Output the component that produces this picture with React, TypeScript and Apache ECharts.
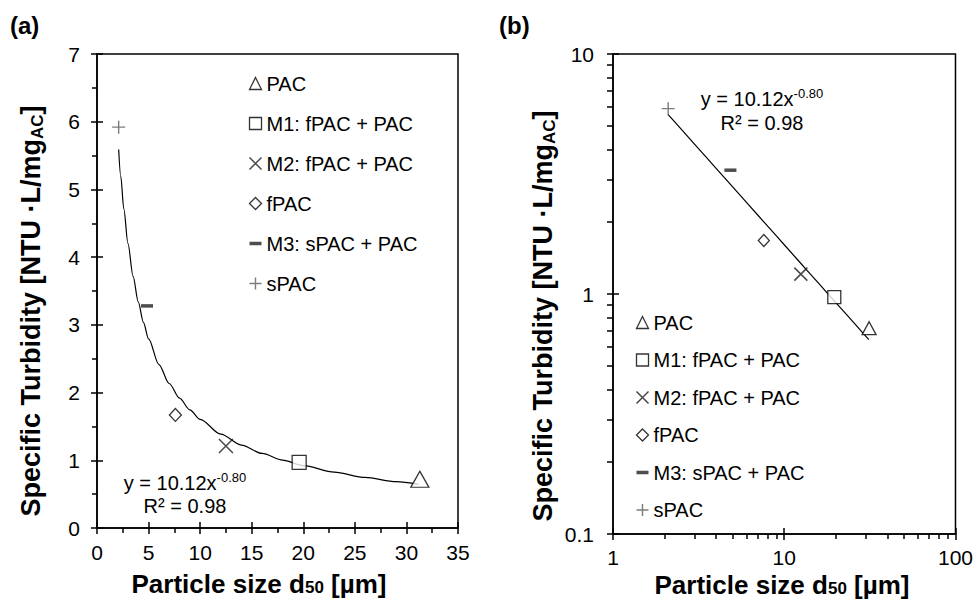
import React, { useEffect, useRef } from "react";
import * as echarts from "echarts";

const FONT = "'Liberation Sans', Arial, Helvetica, sans-serif";

// ---- data ----
const SERIES_NAMES = ["PAC", "M1: fPAC + PAC", "M2: fPAC + PAC", "fPAC", "M3: sPAC + PAC", "sPAC"];
const D50_UM = [31.3, 19.6, 12.5, 7.6, 4.85, 2.1];
const SPECIFIC_TURBIDITY = [0.72, 0.97, 1.21, 1.67, 3.28, 5.92];

// power-law fit y = 10.12 x^-0.80 (values of the drawn trend curve)
const FIT_X = [2.1, 2.3, 2.6, 3, 3.5, 4, 4.5, 5, 6, 7, 8, 9, 10, 12, 14, 16, 18, 20, 23, 26, 29, 31.2];
const FIT_Y = [5.59, 5.198, 4.712, 4.202, 3.715, 3.338, 3.038, 2.793, 2.414, 2.134, 1.917, 1.745, 1.604, 1.386, 1.225, 1.101, 1.002, 0.921, 0.824, 0.747, 0.684, 0.645];

const FIT_EQUATION = "y = 10.12x";
const FIT_EXPONENT = "-0.80";
const FIT_R2 = "R² = 0.98";

const LIN_X_RANGE = [0, 35];
const LIN_X_STEP = 5;
const LIN_Y_RANGE = [0, 7];
const LIN_Y_STEP = 1;
const LOG_X_RANGE = [1, 100];
const LOG_Y_RANGE = [0.1, 10];

// ---- styles ----
const X_PATH = "path://M0,0L10,10M10,0L0,10";
const PLUS_PATH = "path://M5,0L5,10M0,5L10,5";
const DASH_PATH = "path://M0,0L12,0L12,3.5L0,3.5Z";

const MARKERS: any[] = [
  { symbol: "triangle", sizeL: [18, 16], sizeR: [14, 13], legendIcon: "triangle", style: { color: "#fff", borderColor: "#000", borderWidth: 1.3 } },
  { symbol: "rect", sizeL: [14, 14], sizeR: [13, 13], legendIcon: "rect", style: { color: "#fff", borderColor: "#000", borderWidth: 1.3 } },
  { symbol: X_PATH, sizeL: [14, 14], sizeR: [13, 13], legendIcon: X_PATH, style: { color: "none", borderColor: "#1a1a1a", borderWidth: 1.5 } },
  { symbol: "diamond", sizeL: [12, 13], sizeR: [11, 12], legendIcon: "diamond", style: { color: "#fff", borderColor: "#000", borderWidth: 1.3 } },
  { symbol: "rect", sizeL: [12, 3.5], sizeR: [12, 3.5], legendIcon: DASH_PATH, style: { color: "#222", borderColor: "#222", borderWidth: 0 } },
  { symbol: PLUS_PATH, sizeL: [13, 13], sizeR: [13, 13], legendIcon: PLUS_PATH, style: { color: "none", borderColor: "#5a5a5a", borderWidth: 1.4 } },
];

const TICK_LINE = { color: "#000", width: 1.5 };
const LABEL_STYLE = { color: "#000", fontSize: 21, fontFamily: FONT };

function mainAxis(extra: any) {
  return {
    splitLine: { show: false },
    axisLine: { show: true, onZero: false, lineStyle: { color: "#000", width: 1.5 } },
    axisTick: { show: true, length: 6, lineStyle: TICK_LINE },
    ...extra,
  };
}
function innerTickAxis(extra: any) {
  return {
    splitLine: { show: false },
    axisLine: { show: false },
    axisLabel: { show: false },
    axisTick: { show: true, inside: true, length: 6, lineStyle: TICK_LINE },
    ...extra,
  };
}

const logFmt = (v: number) => (v < 1 ? v.toFixed(1) : String(Math.round(v)));

function buildOption() {
  const scatter = (g: number) =>
    SERIES_NAMES.map((name, i) => ({
      type: "scatter",
      name,
      xAxisIndex: g * 2,
      yAxisIndex: g * 2,
      data: [[D50_UM[i], SPECIFIC_TURBIDITY[i]]],
      symbol: MARKERS[i].symbol,
      symbolSize: g === 0 ? MARKERS[i].sizeL : MARKERS[i].sizeR,
      symbolKeepAspect: false,
      itemStyle: MARKERS[i].style,
      z: 4,
      silent: true,
      emphasis: { disabled: true },
    }));

  const fitData = FIT_X.map((x, i) => [x, FIT_Y[i]]);

  const legendData = SERIES_NAMES.map((name, i) => ({
    name,
    icon: MARKERS[i].legendIcon,
    itemStyle: { ...MARKERS[i].style },
  }));

  const legendCommon = {
    orient: "vertical",
    padding: 0,
    itemWidth: 12,
    itemHeight: 12,
    selectedMode: false,
    data: legendData,
    textStyle: { fontSize: 20, fontFamily: FONT, color: "#000", lineHeight: 21 },
  };

  const titleRich = {
    t: { fontSize: 26, fontWeight: "bold", fontFamily: FONT, fill: "#000", lineHeight: 24 },
    s: { fontSize: 17, fontWeight: "bold", fontFamily: FONT, fill: "#000", lineHeight: 4, verticalAlign: "bottom" },
  };
  const yTitleRich = {
    t: { fontSize: 27, fontWeight: "bold", fontFamily: FONT, fill: "#000", lineHeight: 30 },
    s: { fontSize: 17, fontWeight: "bold", fontFamily: FONT, fill: "#000", lineHeight: 10, verticalAlign: "bottom" },
  };
  const eqRich = {
    m: { fontSize: 20, fontFamily: FONT, fill: "#000", lineHeight: 24 },
    s: { fontSize: 13, fontFamily: FONT, fill: "#000", lineHeight: 13, verticalAlign: "top" },
  };

  const text = (x: number, y: number, t: string, rich: any, rotation = 0) => ({
    type: "text",
    x,
    y,
    rotation,
    silent: true,
    style: { text: t, align: "center", verticalAlign: "middle", rich },
  });

  return {
    animation: false,
    backgroundColor: "#fff",
    grid: [
      { left: 97, top: 54, width: 361, height: 474, show: true, borderColor: "#000", borderWidth: 1.5, containLabel: false },
      { left: 613, top: 54, width: 343, height: 480, show: true, borderColor: "#000", borderWidth: 1.5, containLabel: false },
    ],
    xAxis: [
      mainAxis({
        type: "value", gridIndex: 0, position: "bottom", min: LIN_X_RANGE[0], max: LIN_X_RANGE[1], interval: LIN_X_STEP,
        minorTick: { show: true, splitNumber: 2, length: 5, lineStyle: TICK_LINE },
        axisLabel: { ...LABEL_STYLE, margin: 14 },
      }),
      innerTickAxis({ type: "value", gridIndex: 0, position: "bottom", min: LIN_X_RANGE[0], max: LIN_X_RANGE[1], interval: LIN_X_STEP }),
      mainAxis({
        type: "log", logBase: 10, gridIndex: 1, position: "bottom", min: LOG_X_RANGE[0], max: LOG_X_RANGE[1],
        minorTick: { show: true, splitNumber: 9, length: 5, lineStyle: TICK_LINE },
        axisLabel: { ...LABEL_STYLE, margin: 13, formatter: logFmt },
      }),
      innerTickAxis({ type: "log", logBase: 10, gridIndex: 1, position: "bottom", min: LOG_X_RANGE[0], max: LOG_X_RANGE[1] }),
    ],
    yAxis: [
      mainAxis({
        type: "value", gridIndex: 0, position: "left", min: LIN_Y_RANGE[0], max: LIN_Y_RANGE[1], interval: LIN_Y_STEP,
        minorTick: { show: true, splitNumber: 2, length: 5, lineStyle: TICK_LINE },
        axisLabel: { ...LABEL_STYLE, margin: 17 },
      }),
      innerTickAxis({ type: "value", gridIndex: 0, position: "left", min: LIN_Y_RANGE[0], max: LIN_Y_RANGE[1], interval: LIN_Y_STEP }),
      mainAxis({
        type: "log", logBase: 10, gridIndex: 1, position: "left", min: LOG_Y_RANGE[0], max: LOG_Y_RANGE[1],
        minorTick: { show: true, splitNumber: 9, length: 6, lineStyle: TICK_LINE },
        axisLabel: { ...LABEL_STYLE, margin: 19, formatter: logFmt },
      }),
      innerTickAxis({ type: "log", logBase: 10, gridIndex: 1, position: "left", min: LOG_Y_RANGE[0], max: LOG_Y_RANGE[1] }),
    ],
    legend: [
      { ...legendCommon, left: 247, top: 73, itemGap: 19 },
      { ...legendCommon, left: 634, top: 312, itemGap: 16.5 },
    ],
    series: [
      {
        type: "line", name: "fit-a", xAxisIndex: 0, yAxisIndex: 0, data: fitData,
        showSymbol: false, symbol: "none", smooth: 0.3, smoothMonotone: "x",
        lineStyle: { color: "#000", width: 1.2 }, z: 2, silent: true,
      },
      {
        type: "line", name: "fit-b", xAxisIndex: 2, yAxisIndex: 2, data: fitData,
        showSymbol: false, symbol: "none",
        lineStyle: { color: "#000", width: 1.2 }, z: 2, silent: true,
      },
      ...scatter(0),
      ...scatter(1),
    ],
    graphic: [
      { type: "text", x: 10, y: 25, silent: true, style: { text: "(a)", fontSize: 24, fontWeight: "bold", fontFamily: FONT, fill: "#000", verticalAlign: "middle" } },
      { type: "text", x: 499, y: 25, silent: true, style: { text: "(b)", fontSize: 24, fontWeight: "bold", fontFamily: FONT, fill: "#000", verticalAlign: "middle" } },
      text(259, 584, "{t|Particle size d}{s|50}{t| [µm]}", titleRich),
      text(782, 585, "{t|Particle size d}{s|50}{t| [µm]}", titleRich),
      text(31, 311, "{t|Specific Turbidity [NTU ·L/mg}{s|AC}{t|]}", yTitleRich, Math.PI / 2),
      text(543, 316, "{t|Specific Turbidity [NTU ·L/mg}{s|AC}{t|]}", yTitleRich, Math.PI / 2),
      text(185, 483, `{m|${FIT_EQUATION}}{s|${FIT_EXPONENT}}`, eqRich),
      text(185, 506, `{m|${FIT_R2}}`, eqRich),
      text(762, 99, `{m|${FIT_EQUATION}}{s|${FIT_EXPONENT}}`, eqRich),
      text(762, 123, `{m|${FIT_R2}}`, eqRich),
    ],
  };
}

export default function App() {
  const ref = useRef<HTMLDivElement>(null);
  useEffect(() => {
    if (!ref.current) return;
    const chart = echarts.init(ref.current, undefined, { renderer: "svg" });
    chart.setOption(buildOption() as any);
    return () => chart.dispose();
  }, []);
  return <div ref={ref} style={{ position: "absolute", left: 0, top: 0, width: 976, height: 602 }} />;
}
